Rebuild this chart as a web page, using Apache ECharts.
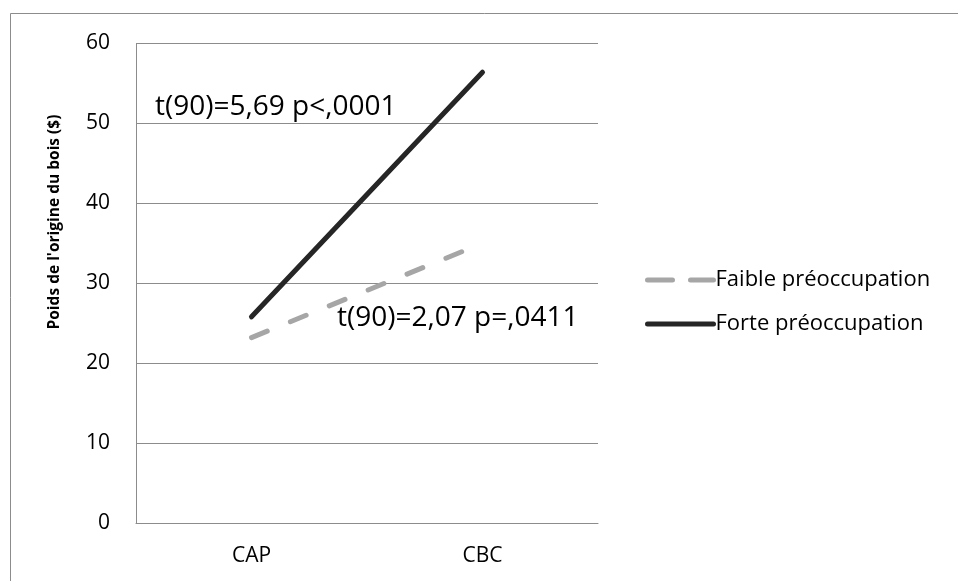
<!DOCTYPE html>
<html>
<head>
<meta charset="utf-8">
<script src="https://cdn.jsdelivr.net/npm/echarts@6/dist/echarts.min.js"></script>
<style>html,body{margin:0;padding:0;background:#fff}#c{width:958px;height:581px}</style>
</head>
<body>
<div id="c"></div>
<script>
const categories = ['CAP', 'CBC'];
const faible = [23.2, 35.0];
const forte = [25.8, 56.4];
const seriesNames = ['Faible préoccupation', 'Forte préoccupation'];
const yTicks = [0, 10, 20, 30, 40, 50, 60];
const yAxisTitle = "Poids de l'origine du bois ($)";
const annotations = ['t(90)=5,69 p<,0001', 't(90)=2,07 p=,0411'];

const chart = echarts.init(document.getElementById('c'), null, {renderer: 'canvas'});
const font = 'Open Sans';
chart.setOption({
  animation: false,
  backgroundColor: '#fff',
  grid: {left: 136, right: 360, top: 43.5, bottom: 58, containLabel: false},
  xAxis: {
    type: 'category', data: categories, boundaryGap: true,
    axisLine: {show: true, lineStyle: {color: '#8c8c8c', width: 1}},
    axisTick: {show: false},
    axisLabel: {color: '#000', fontFamily: font, fontSize: 21, margin: 23}
  },
  yAxis: {
    type: 'value', min: yTicks[0], max: yTicks[yTicks.length - 1], interval: 10,
    axisLine: {show: true, lineStyle: {color: '#8c8c8c', width: 1}},
    axisTick: {show: false},
    splitLine: {show: true, lineStyle: {color: '#8c8c8c', width: 1}},
    axisLabel: {color: '#000', fontFamily: font, fontSize: 21, margin: 26}
  },
  legend: {
    orient: 'vertical', left: 640, top: 264, itemGap: 22,
    itemWidth: 66, itemHeight: 22,
    textStyle: {color: '#000', fontFamily: font, fontSize: 22, padding: [0, 0, 0, -3]},
    itemStyle: {opacity: 0},
    data: [
      {name: seriesNames[0], lineStyle: {width: 5, color: '#a6a6a6', type: [25, 18], cap: 'round'}},
      {name: seriesNames[1], lineStyle: {width: 5, color: '#262626', type: 'solid', cap: 'round'}}
    ]
  },
  series: [
    {
      name: seriesNames[0], type: 'line', data: faible, symbol: 'none',
      lineStyle: {color: '#a6a6a6', width: 5, type: [17, 25], cap: 'round'},
      itemStyle: {color: '#a6a6a6'}, z: 2
    },
    {
      name: seriesNames[1], type: 'line', data: forte, symbol: 'none',
      lineStyle: {color: '#262626', width: 5, cap: 'round'},
      itemStyle: {color: '#262626'}, z: 3
    }
  ],
  graphic: [
    {type: 'rect', shape: {x: 10.5, y: 13.5, width: 1000, height: 1000}, style: {fill: null, stroke: '#8c8c8c', lineWidth: 1}, silent: true, z: -1},
    {type: 'text', x: 55, y: 222, rotation: Math.PI / 2, style: {text: yAxisTitle, fill: '#000', font: 'bold 15.5px "' + font + '"', align: 'center', verticalAlign: 'middle'}},
    {type: 'text', x: 155, y: 107, style: {text: annotations[0], fill: '#000', font: '28px "' + font + '"', align: 'left', verticalAlign: 'middle'}},
    {type: 'text', x: 337, y: 318, style: {text: annotations[1], fill: '#000', font: '28px "' + font + '"', align: 'left', verticalAlign: 'middle'}}
  ]
});
</script>
</body>
</html>
